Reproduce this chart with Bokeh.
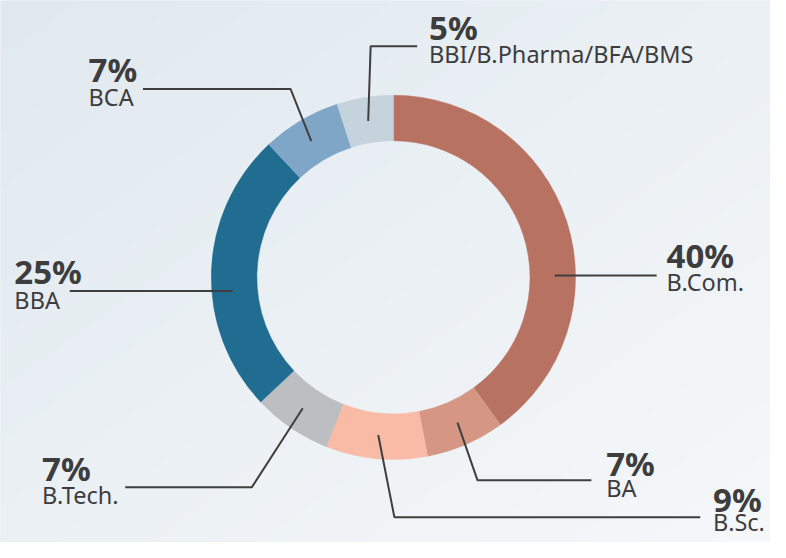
import numpy as np
from bokeh.plotting import figure
from bokeh.models import Range1d, ColumnDataSource
from bokeh.core.properties import value
from bokeh.embed import file_html
from bokeh.resources import INLINE

# ---- data ----
categories = ["B.Com.", "BA", "B.Sc.", "B.Tech.", "BBA", "BCA", "BBI/B.Pharma/BFA/BMS"]
shares = [40, 7, 9, 7, 25, 7, 5]
colors = ["#B87262", "#D59784", "#F9BBA6", "#BCBEC2", "#216C91", "#7FA6C6", "#C5D3DD"]

# ---- layout (reference canvas pixels, y downward) ----
W, H = 786, 558
label_x = [681, 620, 728, 50, 22, 97, 441]
pct_base = [271, 485, 522, 490, 287, 79, 36]
name_base = [298, 510, 545, 517, 316, 107, 63]
line_y = [291, 502, 540, 509, 307, 99, 55]
line_end_x = [671, 605, 715, 134, 78, 152, 429]
elbow_x = [None, 490, 406, 262, None, 301, 382]
cx, cy = 405, 293
r_in, r_out, r_lead = 138, 184, 163
TXT = "#3d3d3d"


def Y(v):
    return H - v


p = figure(width=770, height=542, x_range=Range1d(8, W), y_range=Range1d(Y(566), Y(8)),
           output_backend="svg", toolbar_location=None, min_border=0)
p.axis.visible = False
p.grid.visible = False
p.outline_line_color = None
p.background_fill_color = "#EDF2F5"
p.border_fill_color = "#EDF2F5"

# background gradient (decorative)
n = 120
gx, gy = np.meshgrid(np.linspace(0, 1, n), np.linspace(0, 1, n))  # gy: 0 bottom, 1 top
t = np.clip((gx + (1 - gy)) / 2, 0, 1)
c0 = np.array([224, 233, 239])
c1 = np.array([246, 248, 250])
rgb = (c0[None, None, :] * (1 - t[..., None]) + c1[None, None, :] * t[..., None]).astype(np.uint32)
img = (255 << 24) | (rgb[..., 2] << 16) | (rgb[..., 1] << 8) | rgb[..., 0]
p.image_rgba(image=[img.astype(np.uint32)], x=0, y=Y(570), dw=W + 10, dh=H + 20)

# donut
total = float(sum(shares))
cum = np.concatenate([[0.0], np.cumsum(shares)]) / total * 360.0
th1, th2 = cum[:-1], cum[1:]
src = ColumnDataSource(dict(
    start=np.radians(90 - th2), end=np.radians(90 - th1), color=colors, cat=categories))
p.annular_wedge(x=cx, y=Y(cy), inner_radius=r_in, outer_radius=r_out,
                start_angle="start", end_angle="end", fill_color="color",
                line_color="color", line_width=0.5, source=src)

# leader lines
xs, ys = [], []
for i in range(len(shares)):
    mid = np.radians((th1[i] + th2[i]) / 2)
    if elbow_x[i] is None:
        dy = line_y[i] - cy
        dx = np.sqrt(r_lead ** 2 - dy ** 2)
        ax = cx + dx if label_x[i] > cx else cx - dx
        px = [ax, line_end_x[i]]
        py = [line_y[i], line_y[i]]
    else:
        ax = cx + r_lead * np.sin(mid)
        ay = cy - r_lead * np.cos(mid)
        px = [ax, elbow_x[i], line_end_x[i]]
        py = [ay, line_y[i], line_y[i]]
    xs.append(px)
    ys.append([Y(v) for v in py])
p.multi_line(xs=xs, ys=ys, line_color="#3f3f3f", line_width=2)

# labels
lab = ColumnDataSource(dict(
    x=label_x, yp=[Y(v) for v in pct_base], yn=[Y(v) for v in name_base],
    pct=[f"{v}%" for v in shares], name=categories))
p.text(x="x", y="yp", text="pct", source=lab, text_font=value("Noto Sans"), text_font_style="bold",
       text_font_size="33px", text_color=TXT, text_baseline="alphabetic", text_align="left")
p.text(x="x", y="yn", text="name", source=lab, text_font=value("Noto Sans"),
       text_font_size="23.5px", text_color=TXT, text_baseline="alphabetic", text_align="left")

open("out.html", "w").write(file_html(p, INLINE))
